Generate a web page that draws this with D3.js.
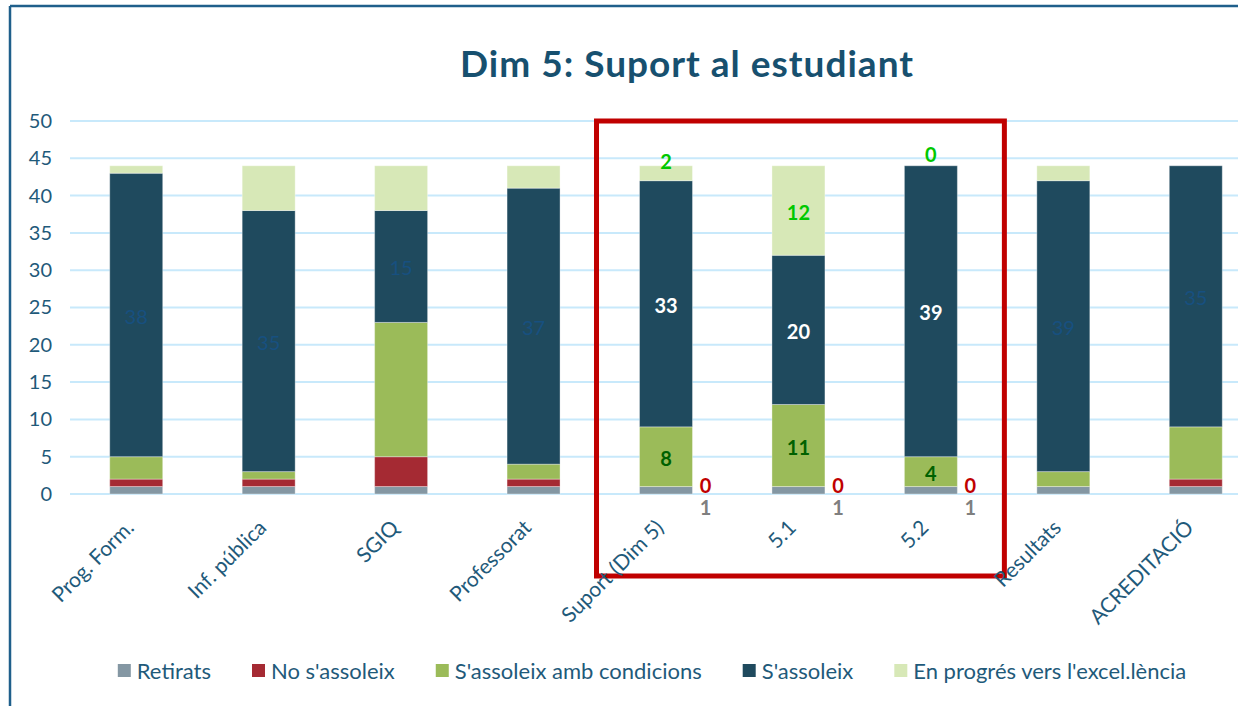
<!DOCTYPE html>
<html>
<head>
<meta charset="utf-8">
<script src="https://cdn.jsdelivr.net/npm/d3@7"></script>
<style>
    body { margin: 0; background: #fff; }
    svg { display: block; font-family: Lato, "Open Sans", sans-serif; }
</style>
</head>
<body>
<svg></svg>
<script>
var categories = ["Prog. Form.", "Inf. pública", "SGIQ", "Professorat", "Suport (Dim 5)", "5.1", "5.2", "Resultats", "ACREDITACIÓ"];

var seriesNames = ["Retirats", "No s'assoleix", "S'assoleix amb condicions", "S'assoleix", "En progrés vers l'excel.lència"];

var retirats = [1, 1, 1, 1, 1, 1, 1, 1, 1];
var noAssoleix = [1, 1, 4, 1, 0, 0, 0, 0, 1];
var ambCondicions = [3, 1, 18, 2, 8, 11, 4, 2, 7];
var assoleix = [38, 35, 15, 37, 33, 20, 39, 39, 35];
var enProgres = [1, 6, 6, 3, 2, 12, 0, 2, 0];

// categories inside the red box get all their labels
var highlighted = ["Suport (Dim 5)", "5.1", "5.2"];

var yTicks = [0, 5, 10, 15, 20, 25, 30, 35, 40, 45, 50];

var colors = ["#8497a3", "#a52a33", "#9bbb59", "#1f4a5e", "#d7e8b7"];
var labelColors = ["#7f7f7f", "#c00000", "#006100", "#ffffff", "#00c800"];

var width = 1238, height = 706;
var margin = { top: 121, left: 70 };
var plotBottom = 494;

var svg = d3.select("svg")
    .attr("width", width)
    .attr("height", height);

// frame
svg.append("line")
    .attr("x1", 10).attr("y1", 6).attr("x2", width).attr("y2", 6)
    .style("stroke", "#1f5f8b").style("stroke-width", 2.5);
svg.append("line")
    .attr("x1", 10).attr("y1", 6).attr("x2", 10).attr("y2", height)
    .style("stroke", "#1f5f8b").style("stroke-width", 2.5);

svg.append("text")
    .attr("x", 687)
    .attr("y", 77)
    .style("text-anchor", "middle")
    .style("font-size", "37px")
    .style("letter-spacing", "1px")
    .style("font-weight", "bold")
    .style("fill", "#17506f")
    .text("Dim 5: Suport al estudiant");

var x = d3.scaleBand()
    .domain(categories)
    .range([margin.left, 1262])
    .paddingInner(0.6)
    .paddingOuter(0.3);

var y = d3.scaleLinear()
    .domain([0, 50])
    .range([plotBottom, margin.top]);

// grid
svg.append("g")
    .selectAll("line")
    .data(yTicks)
    .enter().append("line")
    .attr("x1", margin.left)
    .attr("x2", width)
    .attr("y1", function(d) { return y(d); })
    .attr("y2", function(d) { return y(d); })
    .style("stroke", "#c8e9fb")
    .style("stroke-width", 2);

var yAxis = svg.append("g")
    .attr("transform", "translate(" + 52 + ",0)")
    .call(d3.axisLeft(y).tickValues(yTicks).tickSize(0).tickPadding(0));
yAxis.select(".domain").remove();
yAxis.selectAll("text")
    .style("font-family", "Lato, sans-serif")
    .style("font-size", "20px")
    .style("fill", "#1f5a7a");

var table = categories.map(function(c, i) {
    return {
        cat: c,
        "Retirats": retirats[i],
        "No s'assoleix": noAssoleix[i],
        "S'assoleix amb condicions": ambCondicions[i],
        "S'assoleix": assoleix[i],
        "En progrés vers l'excel.lència": enProgres[i]
    };
});

var stacked = d3.stack().keys(seriesNames)(table);

var layers = svg.append("g")
    .selectAll("g")
    .data(stacked)
    .enter().append("g")
    .style("fill", function(d, i) { return colors[i]; });

layers.selectAll("rect")
    .data(function(d) { return d; })
    .enter().append("rect")
    .filter(function(d) { return d[1] > d[0]; })
    .attr("x", function(d) { return x(d.data.cat); })
    .attr("width", x.bandwidth())
    .attr("y", function(d) { return y(d[1]); })
    .attr("height", function(d) { return y(d[0]) - y(d[1]); })
    .style("stroke", "rgba(255,255,255,0.35)")
    .style("stroke-width", 1);

// red box around dimension 5
var boxLeft = x("Suport (Dim 5)") - 43;
var boxRight = x("5.2") + x.bandwidth() + 47;
svg.append("rect")
    .attr("x", boxLeft)
    .attr("y", y(50))
    .attr("width", boxRight - boxLeft)
    .attr("height", 455)
    .style("fill", "none")
    .style("stroke", "#c00000")
    .style("stroke-width", 5);

// data labels
stacked.forEach(function(layer, si) {
    layer.forEach(function(d) {
        var cat = d.data.cat;
        var isHi = highlighted.indexOf(cat) >= 0;
        var val = d[1] - d[0];
        var cx = x(cat) + x.bandwidth() / 2;
        var mid = y((d[0] + d[1]) / 2);
        if (!isHi) {
            if (si !== 3) return;
            svg.append("text")
                .attr("x", cx)
                .attr("y", mid + 9)
                .style("text-anchor", "middle")
                .style("font-size", "20px")
                .style("fill", "#175080")
                .text(val);
            return;
        }
        var tx = cx, ty = mid + 9;
        if (si === 0) {
            tx = x(cat) + x.bandwidth() + 13;
            ty = plotBottom + 21;
        } else if (si === 1) {
            tx = x(cat) + x.bandwidth() + 13;
            ty = plotBottom - 1;
        } else if (si === 4 && y(d[0]) - y(d[1]) < 20) {
            ty = mid - 4;
        }
        svg.append("text")
            .attr("x", tx)
            .attr("y", ty)
            .style("text-anchor", "middle")
            .style("font-size", "20px")
            .style("font-weight", "bold")
            .style("fill", labelColors[si])
            .text(val);
    });
});

// category labels
svg.append("g")
    .selectAll("text")
    .data(categories)
    .enter().append("text")
    .attr("transform", function(d) {
        return "translate(" + (x(d) + x.bandwidth() / 2 - 1) + "," + 529 + ") rotate(-45)";
    })
    .style("text-anchor", "end")
    .style("font-size", "21px")
    .style("fill", "#1f5a7a")
    .text(function(d) { return d; });

// legend
var legend = svg.append("g");
var lx = 0;
seriesNames.forEach(function(name, i) {
    var item = legend.append("g").attr("transform", "translate(" + lx + ",0)");
    item.append("rect")
        .attr("x", 0).attr("y", -7)
        .attr("width", 13).attr("height", 13)
        .style("fill", colors[i]);
    var t = item.append("text")
        .attr("x", 19).attr("y", 7.5)
        .style("font-size", "22px")
        .style("fill", "#1f5a7a")
        .text(name);
    lx += 19 + t.node().getComputedTextLength() + 41;
});
lx -= 41;
legend.attr("transform", "translate(" + (652 - lx / 2) + ",671)");
</script>
</body>
</html>
